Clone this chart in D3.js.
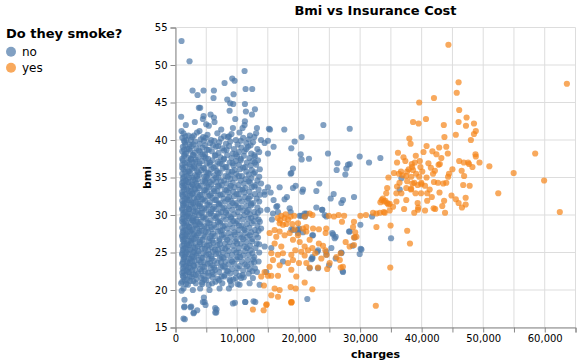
<!DOCTYPE html>
<html><head><meta charset="utf-8">
<script src="https://cdn.jsdelivr.net/npm/d3@7"></script>
<style>body{margin:0;background:#fff} text{font-family:"DejaVu Sans",sans-serif}</style>
</head><body><svg id="c" width="581" height="364"></svg>
<script>
const categories = ["no", "yes"];
const colors = ["#4c78a8", "#f58518"];
const xTicks = [0,5000,10000,15000,20000,25000,30000,35000,40000,45000,50000,55000,60000,65000];
const xLabelTicks = [0,10000,20000,30000,40000,50000,60000];
const yTicks = [15,20,25,30,35,40,45,50,55];

// [charges, bmi] — non-smokers
const nonSmokers = [
[980,53.2],[2280,50.5],[11225,49.2],[9220,48.2],[9600,47.9],[7970,47.6],[2770,46.6],[4560,46.6],[6240,46.6],[3580,46.0],[6180,45.6],[11390,46.8],[12470,46.8],[9440,46.1],[8410,45.4],[8890,44.9],[9380,44.8],[11280,44.8],[4010,44.3],[3800,44.3],[8790,43.9],[11440,43.8],[12910,44.1],[12420,43.4],[920,43.1],[5700,43.4],[4560,43.2],[6240,43.0],[3140,42.4],[1680,42.0],[4450,42.8],[4990,42.1],[5420,41.9],[6340,42.4],[9710,42.8],[11280,42.5],[11225,42.0],[10900,41.6],[9330,41.6],[7430,41.4],[13230,41.6],[15180,41.5],[980,41.2],[3900,41.2],
[24030,42.0],[28310,41.5],[20500,40.4],[19360,39.8],[18820,38.9],[20340,38.1],[20500,37.4],[21690,37.5],[24780,38.2],[29930,37.8],[33290,37.6],[31450,37.0],[26300,36.9],[28030,36.7],[28310,36.8],[27760,36.2],[26190,36.0],[27600,35.4],[19090,36.2],[18820,35.6],[19530,33.9],[19090,33.6],[20720,33.4],[20610,33.1],[23370,34.2],[22890,33.2],[25700,32.8],[25220,32.2],[29010,32.4],[26950,31.6],[27220,32.0],[22890,31.0],[23860,30.7],[24240,30.0],[24510,29.8],[18710,30.4],[20180,29.9],[21040,29.8],[20990,30.2],[31940,29.8],[36710,34.9],[36440,33.4],[30040,28.7],[25600,27.4],[26030,27.1],[28200,27.8],[28790,25.9],[30090,25.5],[29930,24.8],[35030,26.9],[26950,25.0],[25330,25.6],[24510,25.1],[22240,24.4],[22070,24.1],[23050,25.1],[26030,24.2],[24950,23.3],[21800,22.9],[27170,22.5],[21420,18.8],[19910,28.0],[19090,28.0],[20720,27.7],[22340,27.3],
[15350,41.4],[17680,41.4],[15020,39.9],[14480,39.6],[15940,39.1],[15020,38.2],[18710,35.5],[15020,33.7],[14480,33.1],[15460,33.0],[16920,33.7],[14480,32.7],[15940,32.0],[17730,32.1],[18110,32.4],[16540,31.2],[18550,30.9],
[14910,30.7],[16380,31.1],[16650,30.4],[15840,30.2],[15670,29.4],[18820,28.1],[19900,27.6],[20070,28.2],[22240,27.3],[21260,30.2],[20450,29.9],[23810,30.7],[25490,27.6],[25870,26.9],[28310,27.8],[29120,27.0],[30210,25.4],[26950,24.9],[23160,25.3],[22240,24.2],[24510,24.7],[27220,22.4],[23160,22.9],[14480,25.8],[15570,25.6],[17460,23.8],
[1460,18.7],[1460,17.8],[2440,17.7],[2930,16.9],[1300,16.2],[4610,19.0],[4720,18.4],[6450,17.6],[6620,17.0],[9330,18.2],[11330,18.4],[12690,18.5],[13670,20.7],[12040,20.9],[10680,21.6],[8680,20.2],[7160,20.2],[5530,20.0],[4010,20.2],[2010,20.7],[1300,20.2],[2820,20.0],[920,20.9],[1000,19.9],[4340,20.8],[5970,20.9],[9060,20.7],[10410,20.7],[12580,21.6],[13230,22.4],[14750,22.4],
[1410,17.7],[2550,17.8],[2980,17.0],[3530,17.3],[4450,18.4],[4880,18.0],[6460,17.0],[6670,17.4],[9650,18.3],[11340,18.4],[12970,18.4],[1510,16.1],
[1300,40.9],[2100,40.6],[3500,41.0],[5200,40.7],[6800,40.9],[7900,40.5],[9100,40.8],[10400,41.0],[12100,40.6],[13100,40.9],
[1100,40.3],[1800,40.0],[2700,40.4],[4100,40.1],[4900,40.3],[6300,39.9],[7400,40.2],[8500,40.4],[9800,40.0],[11000,40.3],[11900,40.1],[12800,40.4],[13900,40.0],
[1500,39.7],[2300,39.4],[3200,39.8],[3900,39.5],[5600,39.6],[6100,39.3],[7100,39.7],[8200,39.5],[8900,39.8],[10100,39.4],[11500,39.6],[12600,39.7],
[1200,39.1],[1900,38.8],[2600,39.2],[3400,38.9],[4400,39.0],[5400,38.7],[6600,39.1],[7600,38.9],[8700,39.2],[9500,38.8],[10700,39.0],[11800,39.1],[13300,38.8],
[1100,38.5],[1700,38.2],[2400,38.6],[3100,38.3],[4000,38.4],[4800,38.1],[5900,38.5],[7000,38.3],[7900,38.6],[9300,38.2],[10300,38.4],[11200,38.5],[12300,38.2],[13600,38.4],
[1400,37.9],[2100,37.6],[2900,38.0],[3700,37.7],[4600,37.8],[5300,37.5],[6400,37.9],[7300,37.7],[8400,38.0],[9100,37.6],[10000,37.8],[11100,37.9],[12000,37.6],[12900,37.8],
[1200,37.3],[1900,37.0],[2500,37.4],[3300,37.1],[4300,37.2],[5100,36.9],[6000,37.3],[6900,37.1],[7800,37.4],[8800,37.0],[9800,37.2],[10600,37.3],[11600,37.0],[12500,37.2],[13400,37.3],
[1100,36.7],[1600,36.4],[2300,36.8],[3000,36.5],[3800,36.6],[4500,36.3],[5600,36.7],[6500,36.5],[7500,36.8],[8300,36.4],[9400,36.6],[10300,36.7],[11300,36.4],[12200,36.6],[13100,36.7],
[1300,36.1],[2000,35.8],[2700,36.2],[3500,35.9],[4200,36.0],[5000,35.7],[5800,36.1],[6700,35.9],[7700,36.2],[8600,35.8],[9600,36.0],[10500,36.1],[11500,35.8],[12400,36.0],[13700,36.1],
[1100,35.5],[1800,35.2],[2400,35.6],[3200,35.3],[3900,35.4],[4700,35.1],[5500,35.5],[6300,35.3],[7200,35.6],[8100,35.2],[9000,35.4],[9900,35.5],[10800,35.2],[11900,35.4],[12700,35.5],
[1200,34.9],[1700,34.6],[2200,35.0],[2900,34.7],[3600,34.8],[4400,34.5],[5200,34.9],[6100,34.7],[7000,35.0],[7900,34.6],[8900,34.8],[9700,34.9],[10600,34.6],[11400,34.8],[12300,34.9],[13300,34.6],
[1100,34.3],[1500,34.0],[2100,34.4],[2700,34.1],[3400,34.2],[4100,33.9],[4900,34.3],[5800,34.1],[6600,34.4],[7500,34.0],[8300,34.2],[9300,34.3],[10200,34.0],[11100,34.2],[12100,34.3],[13000,34.0],[13900,34.2],
[1300,33.7],[1900,33.4],[2500,33.8],[3100,33.5],[3800,33.6],[4600,33.3],[5400,33.7],[6200,33.5],[7100,33.8],[8000,33.4],[8800,33.6],[9600,33.7],[10500,33.4],[11400,33.6],[12400,33.7],[13500,33.4],
[1100,33.1],[1600,32.8],[2200,33.2],[2800,32.9],[3500,33.0],[4300,32.7],[5100,33.1],[5900,32.9],[6800,33.2],[7700,32.8],[8600,33.0],[9400,33.1],[10300,32.8],[11200,33.0],[12000,33.1],[12900,32.8],
[1200,32.5],[1800,32.2],[2400,32.6],[3000,32.3],[3700,32.4],[4500,32.1],[5300,32.5],[6000,32.3],[6900,32.6],[7800,32.2],[8700,32.4],[9500,32.5],[10400,32.2],[11300,32.4],[12200,32.5],[13200,32.2],
[1100,31.9],[1500,31.6],[2000,32.0],[2600,31.7],[3300,31.8],[4000,31.5],[4800,31.9],[5600,31.7],[6400,32.0],[7300,31.6],[8100,31.8],[9000,31.9],[9900,31.6],[10800,31.8],[11700,31.9],[12600,31.6],[13600,31.8],
[1300,31.3],[1900,31.0],[2500,31.4],[3200,31.1],[3900,31.2],[4700,30.9],[5500,31.3],[6300,31.1],[7100,31.4],[7900,31.0],[8800,31.2],[9700,31.3],[10600,31.0],[11500,31.2],[12300,31.3],[13300,31.0],
[1100,30.7],[1600,30.4],[2200,30.8],[2900,30.5],[3600,30.6],[4300,30.3],[5000,30.7],[5800,30.5],[6600,30.8],[7400,30.4],[8300,30.6],[9200,30.7],[10100,30.4],[11000,30.6],[11900,30.7],[12800,30.4],[13800,30.6],
[1200,30.1],[1800,29.8],[2400,30.2],[3100,29.9],[3800,30.0],[4600,29.7],[5400,30.1],[6200,29.9],[7000,30.2],[7800,29.8],[8600,30.0],[9500,30.1],[10400,29.8],[11200,30.0],[12100,30.1],[13000,29.8],
[1100,29.5],[1500,29.2],[2100,29.6],[2700,29.3],[3400,29.4],[4100,29.1],[4900,29.5],[5700,29.3],[6500,29.6],[7300,29.2],[8200,29.4],[9100,29.5],[10000,29.2],[10900,29.4],[11800,29.5],[12700,29.2],[13500,29.4],
[1300,28.9],[1900,28.6],[2500,29.0],[3200,28.7],[3900,28.8],[4700,28.5],[5500,28.9],[6300,28.7],[7200,29.0],[8000,28.6],[8900,28.8],[9800,28.9],[10700,28.6],[11600,28.8],[12400,28.9],[13300,28.6],
[1100,28.3],[1600,28.0],[2200,28.4],[2800,28.1],[3500,28.2],[4300,27.9],[5100,28.3],[5900,28.1],[6700,28.4],[7600,28.0],[8400,28.2],[9300,28.3],[10200,28.0],[11100,28.2],[12000,28.3],[12900,28.0],[13900,28.2],
[1200,27.7],[1800,27.4],[2400,27.8],[3000,27.5],[3700,27.6],[4500,27.3],[5300,27.7],[6100,27.5],[6900,27.8],[7800,27.4],[8700,27.6],[9600,27.7],[10500,27.4],[11400,27.6],[12300,27.7],[13100,27.4],
[1100,27.1],[1500,26.8],[2000,27.2],[2600,26.9],[3300,27.0],[4000,26.7],[4800,27.1],[5600,26.9],[6400,27.2],[7200,26.8],[8100,27.0],[9000,27.1],[9900,26.8],[10800,27.0],[11700,27.1],[12500,26.8],[13400,27.0],
[1300,26.5],[1900,26.2],[2500,26.6],[3200,26.3],[3900,26.4],[4600,26.1],[5400,26.5],[6200,26.3],[7100,26.6],[8000,26.2],[8800,26.4],[9700,26.5],[10600,26.2],[11500,26.4],[12400,26.5],[13200,26.2],
[1100,25.9],[1600,25.6],[2200,26.0],[2900,25.7],[3600,25.8],[4300,25.5],[5100,25.9],[5900,25.7],[6800,26.0],[7600,25.6],[8500,25.8],[9400,25.9],[10300,25.6],[11200,25.8],[12100,25.9],[13000,25.6],
[1200,25.3],[1800,25.0],[2400,25.4],[3000,25.1],[3700,25.2],[4500,24.9],[5300,25.3],[6100,25.1],[6900,25.4],[7700,25.0],[8600,25.2],[9500,25.3],[10400,25.0],[11300,25.2],[12200,25.3],[13600,25.0],
[1100,24.7],[1500,24.4],[2100,24.8],[2700,24.5],[3400,24.6],[4200,24.3],[5000,24.7],[5800,24.5],[6600,24.8],[7500,24.4],[8400,24.6],[9200,24.7],[10100,24.4],[11000,24.6],[11900,24.7],[12800,24.4],
[1300,24.1],[1900,23.8],[2500,24.2],[3100,23.9],[3800,24.0],[4600,23.7],[5400,24.1],[6300,23.9],[7200,24.2],[8100,23.8],[9000,24.0],[9900,24.1],[10800,23.8],[11700,24.0],[12600,24.1],[13500,23.8],
[1100,23.5],[1700,23.2],[2300,23.6],[2900,23.3],[3600,23.4],[4400,23.1],[5200,23.5],[6000,23.3],[6800,23.6],[7700,23.2],[8600,23.4],[9500,23.5],[10400,23.2],[11300,23.4],[12300,23.5],
[1200,22.9],[1800,22.6],[2400,23.0],[3200,22.7],[4000,22.8],[4800,22.5],[5700,22.9],[6500,22.7],[7400,23.0],[8300,22.6],[9200,22.8],[10100,22.9],[11000,22.6],[12000,22.8],[12900,22.9],
[1100,22.3],[1600,22.0],[2200,22.4],[2900,22.1],[3700,22.2],[4500,21.9],[5300,22.3],[6200,22.1],[7100,22.4],[8000,22.0],[8900,22.2],[9800,22.3],[10900,22.0],[11900,22.2],
[1300,21.7],[1900,21.4],[2600,21.8],[3400,21.5],[4200,21.6],[5000,21.3],[6000,21.7],[6900,21.5],[7900,21.8],[8800,21.4],[9800,21.6],[11100,21.7],
[1100,21.1],[1700,20.8],[2400,21.2],[3300,20.9],[4300,21.0],[5400,20.7],[6500,21.1],[7600,20.9],[8900,21.2],[10100,20.8],
[1600,40.5],[3000,40.6],[4500,40.4],[8700,40.5],
[1400,39.9],[2500,40.0],[4600,39.9],[5800,40.0],[10600,39.9],
[1600,39.3],[2900,39.4],[4800,39.3],[6900,39.2],[12200,39.3],
[1400,38.7],[2200,38.8],[3800,38.6],[5100,38.7],[8300,38.7],[11500,38.8],
[1500,38.1],[2800,38.0],[4400,38.1],[6500,38.0],[9800,38.1],[12800,38.0],
[1100,37.5],[2500,37.5],[3300,37.4],[4900,37.6],[7900,37.5],[10600,37.5],
[1500,36.9],[2800,37.0],[3900,36.9],[5600,37.0],[7200,36.9],[9300,36.9],[12900,37.0],
[1100,36.3],[2400,36.4],[3100,36.3],[4700,36.2],[6200,36.3],[8100,36.4],[11000,36.3],
[1600,35.7],[2200,35.8],[3700,35.7],[5300,35.6],[6900,35.7],[9200,35.8],[12900,35.7],
[1400,35.1],[2700,35.0],[3500,35.2],[5000,35.1],[6600,35.0],[8500,35.1],[10300,35.2],[13600,35.1],
[1300,34.5],[2000,34.4],[3200,34.6],[4800,34.5],[5600,34.4],[7400,34.5],[11900,34.5],
[1100,33.9],[1700,33.8],[2800,34.0],[3600,33.9],[5100,33.8],[6900,33.9],[9000,33.9],[12800,33.8],
[1400,33.3],[2500,33.2],[3200,33.4],[4800,33.3],[6300,33.2],[8300,33.3],[10900,33.4],
[1100,32.7],[2000,32.6],[2700,32.8],[4000,32.7],[5600,32.6],[7300,32.7],[9900,32.8],[13700,32.7],
[1500,32.1],[2300,32.0],[3500,32.2],[4300,32.1],[6600,32.0],[8500,32.1],[11900,32.2],
[1200,31.5],[1700,31.4],[2900,31.6],[3700,31.5],[5200,31.4],[7000,31.5],[9300,31.6],[12300,31.5],
[1100,30.9],[2200,30.8],[2800,31.0],[4300,30.9],[6000,30.8],[7600,30.9],[10200,31.0],
[1400,30.3],[2000,30.2],[3300,30.4],[4100,30.3],[5700,30.2],[8200,30.3],[11600,30.4],[13400,30.3],
[1300,29.7],[2200,29.8],[2900,29.6],[4400,29.7],[6700,29.8],[9000,29.7],[12300,29.6],
[1100,29.1],[1700,29.0],[2900,29.2],[3600,29.1],[5200,29.0],[6900,29.1],[9400,29.2],[13700,29.1],
[1500,28.5],[2300,28.4],[3300,28.6],[4200,28.5],[5800,28.4],[7700,28.5],[10300,28.6],
[1300,27.9],[2000,27.8],[2600,28.0],[3900,27.9],[4900,27.8],[7300,27.9],[11200,28.0],[13500,27.9],
[1100,27.3],[1600,27.2],[2800,27.4],[3500,27.3],[5800,27.2],[7500,27.3],[9600,27.4],[12100,27.3],
[1200,26.7],[2200,26.6],[3000,26.8],[4400,26.7],[6000,26.6],[8400,26.7],[11000,26.8],
[1400,26.1],[1900,26.0],[2600,26.2],[4000,26.1],[5500,26.0],[7200,26.1],[10000,26.2],[13600,26.1],
[1300,25.5],[2000,25.4],[3200,25.6],[4800,25.5],[6400,25.4],[8100,25.5],[11600,25.6],
[1100,24.9],[1600,24.8],[2800,25.0],[3600,24.9],[5400,24.8],[7000,24.9],[9900,25.0],[12500,24.9],
[1400,24.3],[2200,24.2],[3000,24.4],[4400,24.3],[5900,24.2],[7800,24.3],[10500,24.4],
[1200,23.7],[2000,23.6],[2700,23.8],[4100,23.7],[5600,23.6],[7400,23.7],[9200,23.8],[12800,23.7],
[1400,23.1],[2100,23.0],[3000,23.2],[4700,23.1],[6300,23.0],[8000,23.1],[11600,23.2],
[1300,22.5],[2000,22.4],[2700,22.6],[4200,22.5],[6000,22.4],[8500,22.5],[12500,22.5],
[1200,21.9],[2300,21.8],[3300,22.0],[5400,21.9],[7500,21.8],[10400,21.9],
[1500,21.3],[2900,21.2],[4700,21.4],[7100,21.3],[9400,21.4]
];

// [charges, bmi] — smokers
const smokers = [
[44350,52.7],[63600,47.5],[46000,47.7],[45700,46.3],[46100,44.0],[42000,45.6],[39600,45.0],[40700,42.8],[38600,42.4],[39500,42.2],[43600,42.0],[46000,42.4],[47300,43.0],[47200,41.9],[48500,42.2],[48800,41.2],[48500,40.8],[45550,40.7],[43700,40.4],[48000,40.0],[38000,40.2],[38200,39.5],[40800,39.2],[42850,39.0],[44000,39.1],[44250,38.2],[40300,38.4],[41750,38.5],[42400,38.1],[39050,37.9],[36150,38.3],[48750,38.1],[48800,37.8],[37050,37.7],[37350,37.2],[36000,37.0],[38400,36.8],[39700,37.2],[39800,36.4],[38450,36.4],[41500,36.3],[42750,36.7],[42950,36.8],[42150,35.9],[46100,37.2],[46850,37.0],[47550,37.0],[47700,36.8],[48250,36.4],[49400,37.0],[51000,36.5],[58450,38.2],[46500,35.9],[36650,35.8],[37650,35.8],[38600,36.0],[39100,35.5],[40100,35.8],[40800,35.0],[34600,35.0],[35500,35.6],[36300,35.5],[36900,35.3],[37500,35.2],[38300,35.1],[39600,35.1],[39950,34.3],[41850,35.5],[42000,34.4],[44450,35.5],[44300,35.1],[46900,35.2],[54950,35.6],[59900,34.6],[37650,34.5],[38500,34.2],[39350,34.0],[38800,34.3],[42650,34.3],[43500,34.2],[44000,34.3],[46750,34.0],[47800,33.9],[34400,33.6],[36000,33.8],[36400,34.3],[37500,33.6],[38250,33.4],[39950,34.1],[40550,33.9],[34250,32.9],[35900,32.9],[36700,32.9],[38300,33.5],[39000,32.9],[39900,32.9],[40900,32.9],[41650,32.4],[40900,31.9],[43650,31.9],[44850,32.6],[45550,32.1],[46000,31.6],[47150,32.3],[47150,31.4],[46550,31.0],[52450,32.9],[62450,30.4],[33500,32.0],[33900,31.8],[34400,31.6],[34800,31.5],[35900,31.8],[37500,32.0],[39350,31.6],[39450,31.0],[39400,30.7],[40550,30.6],[41950,30.9],[42200,30.8],[43800,30.3],[43350,31.2],[38800,30.3],[37150,30.8],[35350,31.1],[33200,30.3],[32650,30.2],[32100,30.3],[30950,30.0],[30050,29.9],[27400,29.9],[26500,30.0],[25750,29.8],[24900,29.9],[22250,30.0],[21800,30.2],[21000,29.8],[19300,29.9],[18700,29.8],[33850,30.4],[34000,30.3],[34800,30.6],[27050,29.1],[29000,29.1],[28850,28.4],[32650,28.4],[34950,28.6],[37650,27.9],[38100,26.2],[34900,23.0],[32550,17.9],[29200,27.7],[29400,27.1],[29000,27.0],[27650,26.4],[28300,25.8],[29000,26.0],[26850,24.9],[26700,24.0],[26850,23.0],[27200,23.1],[26150,24.4],[25050,23.6],[24650,22.8],[24550,24.7],[24350,25.3],[23970,25.9],[23300,26.2],[24400,27.6],[24500,28.2],[23300,28.1],[22350,28.2],[21260,28.4],[20720,28.2],[19900,28.9],[19360,28.1],[18980,28.8],[18550,27.6],[21260,27.8],[21800,26.7],[19900,27.3],[19090,26.7],[20180,26.4],[20990,25.8],[21530,25.3],[22240,25.6],[22720,24.9],[23700,24.2],[23160,23.0],[20990,24.6],[20450,25.1],[19470,25.3],[18820,24.7],[19090,24.0],[20070,23.6],[21260,23.6],[21800,23.0],[20990,21.0],[19630,21.8],[18820,22.7],[18710,20.4],[19530,20.2],[22240,20.1],[18820,18.3],
[33700,32.2],[34100,31.9],[34600,31.4],[33300,31.7],[37900,36.1],[38900,37.0],[41100,36.9],[43200,37.6],[45000,36.1],[41300,33.4],[42900,33.0],
[17190,29.9],[17730,29.6],[16920,28.9],[17460,28.7],[16110,28.0],[16920,27.8],[15290,27.6],[16380,27.1],[17730,27.3],[16110,26.2],[17190,25.8],[15570,24.9],[16650,24.7],[17460,24.9],[15840,24.0],[16920,23.3],[18280,23.6],[15290,23.1],[14480,22.4],[15570,21.9],[16650,21.9],[15020,21.9],[16110,20.2],[16920,20.0],[15570,19.3],[16650,19.1],[18820,18.4],[14750,18.0],
[17000,29.3],[17900,30.1],[18300,29.4],[16600,29.6],[18000,28.8],
[12580,17.4],[14320,17.3],[14810,18.1],[18870,18.4],[13940,21.8],[14370,20.6]
];

const svg = d3.select("#c");
const W = 400, H = 300, L = 175.5, T = 27.5;
const x = d3.scaleLinear().domain([0, 65000]).range([0, W]);
const y = d3.scaleLinear().domain([15, 55]).range([H, 0]);
const color = d3.scaleOrdinal().domain(categories).range(colors);

const g = svg.append("g").attr("transform", `translate(${L},${T})`);

// grid
g.append("g").selectAll("line").data(xTicks).join("line")
  .attr("x1", d => x(d)).attr("x2", d => x(d)).attr("y1", 0).attr("y2", H)
  .attr("stroke", "#ddd").attr("stroke-width", 1);
g.append("g").selectAll("line").data(yTicks).join("line")
  .attr("y1", d => y(d)).attr("y2", d => y(d)).attr("x1", 0).attr("x2", W)
  .attr("stroke", "#ddd").attr("stroke-width", 1);

// axes
const fmt = d3.format(",");
const xAxis = d3.axisBottom(x).tickValues(xTicks).tickSize(5).tickPadding(2)
  .tickFormat(d => xLabelTicks.includes(d) ? fmt(d) : "");
const yAxis = d3.axisLeft(y).tickValues(yTicks).tickSize(5).tickPadding(3).tickFormat(d3.format("d"));

const gx = g.append("g").attr("transform", `translate(0,${H})`).call(xAxis);
const gy = g.append("g").call(yAxis);
[gx, gy].forEach(a => {
  a.select(".domain").attr("stroke", "#888");
  a.selectAll(".tick line").attr("stroke", "#888");
  a.selectAll("text").attr("font-size", 10).attr("fill", "#000").attr("font-family", "DejaVu Sans, sans-serif");
});

// points
const all = nonSmokers.map(d => ({c: d[0], b: d[1], s: "no"}))
  .concat(smokers.map(d => ({c: d[0], b: d[1], s: "yes"})));
g.append("g").selectAll("circle").data(all).join("circle")
  .attr("cx", d => x(d.c)).attr("cy", d => y(d.b)).attr("r", 3.09)
  .attr("fill", d => color(d.s)).attr("fill-opacity", 0.7);

// titles
svg.append("text").attr("x", L + W / 2).attr("y", 15).attr("text-anchor", "middle")
  .attr("font-size", 13).attr("font-weight", "bold").text("Bmi vs Insurance Cost");
svg.append("text").attr("x", L + W / 2).attr("y", 357.5).attr("text-anchor", "middle")
  .attr("font-size", 11).attr("font-weight", "bold").text("charges");
svg.append("text").attr("transform", `translate(151,${T + H / 2}) rotate(-90)`).attr("text-anchor", "middle")
  .attr("font-size", 11).attr("font-weight", "bold").text("bmi");

// legend
const lg = svg.append("g");
lg.append("text").attr("x", 6).attr("y", 37.5).attr("font-size", 13).attr("font-weight", "bold").text("Do they smoke?");
const items = lg.selectAll("g.item").data(categories).join("g").attr("class", "item")
  .attr("transform", (d, i) => `translate(0,${51.7 + i * 16})`);
items.append("circle").attr("cx", 11).attr("cy", 0).attr("r", 5)
  .attr("fill", d => color(d)).attr("fill-opacity", 0.7);
items.append("text").attr("x", 22).attr("y", 4.3).attr("font-size", 12).text(d => d);
</script>
</body></html>
